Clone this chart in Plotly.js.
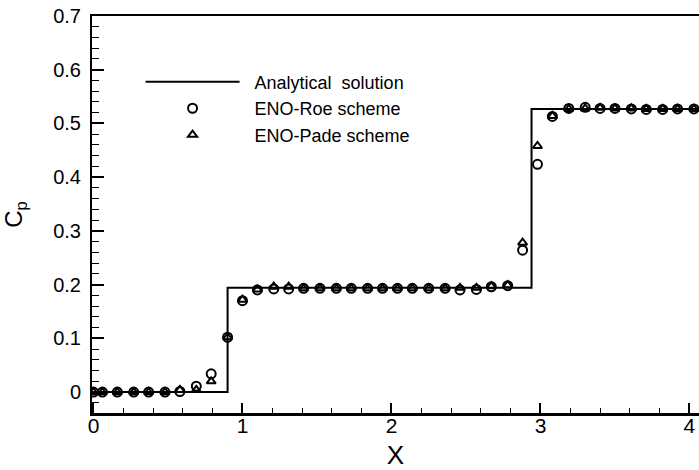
<!DOCTYPE html>
<html>
<head>
<meta charset="utf-8">
<script src="https://cdn.plot.ly/plotly-3.0.1.min.js"></script>
<style>html,body{margin:0;padding:0;background:#fff;}#chart{width:699px;height:470px;}</style>
</head>
<body>
<div id="chart"></div>
<script>
// Analytical step solution
const exactX = [-0.01, 0.90, 0.90, 2.94, 2.94, 4.07];
const exactY = [0, 0, 0.194, 0.194, 0.527, 0.527];

// Numerical sample locations
const xs = [0.00, 0.06, 0.16, 0.27, 0.37, 0.48, 0.58, 0.69, 0.79, 0.90,
            1.00, 1.10, 1.21, 1.31, 1.41, 1.52, 1.63, 1.73, 1.84, 1.94,
            2.04, 2.14, 2.25, 2.36, 2.46, 2.57, 2.67, 2.78, 2.88, 2.98,
            3.08, 3.19, 3.30, 3.40, 3.50, 3.61, 3.71, 3.82, 3.92, 4.03];

const roeY = [0, 0, 0, 0, 0, 0, 0.001, 0.011, 0.034, 0.102,
              0.170, 0.190, 0.192, 0.192, 0.193, 0.193, 0.193, 0.193, 0.193, 0.193,
              0.193, 0.193, 0.193, 0.193, 0.190, 0.191, 0.196, 0.198, 0.264, 0.424,
              0.513, 0.528, 0.530, 0.528, 0.528, 0.527, 0.526, 0.526, 0.527, 0.527];

const padeY = [0, 0, 0, 0, 0, 0, 0.004, 0.004, 0.020, 0.102,
               0.172, 0.191, 0.196, 0.196, 0.193, 0.193, 0.193, 0.193, 0.193, 0.193,
               0.193, 0.193, 0.193, 0.193, 0.194, 0.194, 0.197, 0.199, 0.278, 0.458,
               0.514, 0.527, 0.528, 0.529, 0.528, 0.528, 0.527, 0.527, 0.527, 0.527];

const names = ["Analytical  solution", "ENO-Roe scheme", "ENO-Pade scheme"];

const font = "Liberation Sans, Arial, Helvetica, sans-serif";
const pad = "&nbsp;&nbsp;";

const traces = [
  {x: exactX, y: exactY, mode: "lines", name: pad + names[0],
   line: {color: "#000", width: 2}},
  {x: xs, y: roeY, mode: "markers", name: pad + names[1],
   marker: {symbol: "circle-open", size: 9, color: "#000", line: {width: 2, color: "#000"}}},
  {x: xs, y: padeY, mode: "markers", name: pad + names[2],
   marker: {symbol: "triangle-up-open", size: 8, color: "#000", line: {width: 2, color: "#000"}}}
];

const layout = {
  width: 699, height: 470,
  margin: {l: 92, r: 0, t: 16, b: 57},
  paper_bgcolor: "#fff", plot_bgcolor: "#fff",
  font: {family: font, color: "#000", size: 20},
  showlegend: true,
  legend: {x: 0.08, y: 0.88, xanchor: "left", yanchor: "top",
           bgcolor: "rgba(0,0,0,0)", font: {size: 18, family: font},
           itemwidth: 94, tracegroupgap: 0},
  xaxis: {
    range: [-0.01, 4.064], showgrid: false, zeroline: false,
    showline: true, linecolor: "#000", linewidth: 2.5, mirror: true,
    tickmode: "array", tickvals: [0, 1, 2, 3, 4], ticktext: ["0", "1", "2", "3", "4"],
    ticks: "inside", ticklen: 10, tickwidth: 2, tickcolor: "#000",
    minor: {dtick: 0.2, ticks: "inside", ticklen: 5, tickwidth: 1, tickcolor: "#000"},
    tickfont: {size: 21}, ticklabelstandoff: -8,
    title: {text: "X", font: {size: 26}, standoff: 16}
  },
  yaxis: {
    range: [-0.039, 0.7], showgrid: false, zeroline: false,
    showline: true, linecolor: "#000", linewidth: 2, mirror: false,
    tickmode: "array", tickvals: [0, 0.1, 0.2, 0.3, 0.4, 0.5, 0.6, 0.7],
    ticktext: ["0", "0.1", "0.2", "0.3", "0.4", "0.5", "0.6", "0.7"],
    ticks: "inside", ticklen: 12, tickwidth: 2, tickcolor: "#000",
    minor: {dtick: 0.02, ticks: "inside", ticklen: 7, tickwidth: 1, tickcolor: "#000"},
    tickfont: {size: 20}, ticklabelstandoff: 5,
    title: {text: "C<sub>p</sub>", font: {size: 24}, standoff: 24}
  }
};

Plotly.newPlot("chart", traces, layout, {staticPlot: true, displayModeBar: false});
</script>
</body>
</html>
